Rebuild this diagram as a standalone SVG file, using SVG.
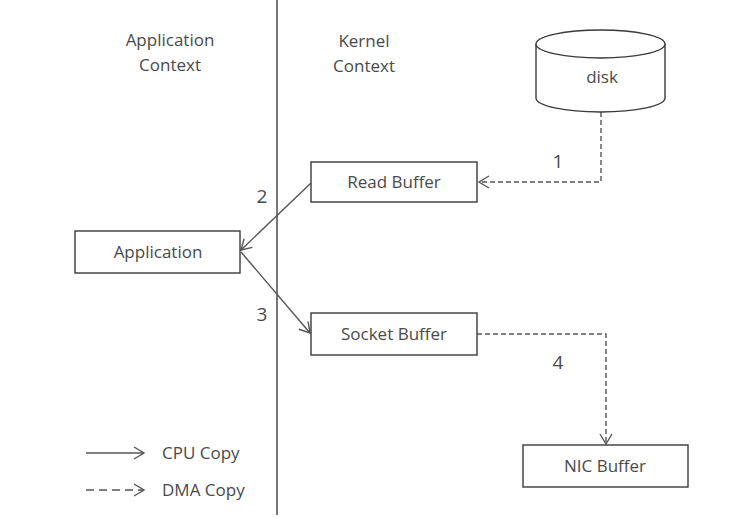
<svg xmlns="http://www.w3.org/2000/svg" width="740" height="519" viewBox="0 0 740 519">
  <style>
    .lbl { font-family: "Open Sans", "Liberation Sans", sans-serif; font-size: 17px; fill: #4a4a4a; text-anchor: middle; }
    .num { font-size: 19px; }
    .box { fill: #fff; stroke: #3a3a3a; stroke-width: 1.4; }
    .cpu { fill: none; stroke: #555; stroke-width: 1.4; marker-end: url(#chev); }
    .dma { fill: none; stroke: #555; stroke-width: 1.4; stroke-dasharray: 5 3; marker-end: url(#chev); }
    .divider { stroke: #555; stroke-width: 1.6; }
  </style>
  <defs>
    <marker id="chev" markerUnits="userSpaceOnUse" markerWidth="14" markerHeight="14" refX="0" refY="0" viewBox="-12 -7 14 14" orient="auto" overflow="visible">
      <path d="M-10,-6 L0,0 L-10,6" fill="none" stroke="#555" stroke-width="1.4"/>
    </marker>
  </defs>
  <rect width="740" height="519" fill="#fff"/>

  <!-- context divider -->
  <line class="divider" x1="277" y1="0" x2="277" y2="515"/>

  <!-- context headings -->
  <text class="lbl" x="170" y="46">Application</text>
  <text class="lbl" x="170" y="71">Context</text>
  <text class="lbl" x="364" y="47">Kernel</text>
  <text class="lbl" x="364" y="72">Context</text>

  <g id="connectors">
    <!-- 1: disk to read buffer (DMA) -->
    <path class="dma" d="M601,112 V182 H479"/>
    <!-- 2: read buffer to application (CPU) -->
    <path class="cpu" d="M311,183 L241,250"/>
    <!-- 3: application to socket buffer (CPU) -->
    <path class="cpu" d="M241,252 L310,333"/>
    <!-- 4: socket buffer to NIC buffer (DMA) -->
    <path class="dma" d="M477,334 H606 V444"/>
    <text class="lbl num" x="558" y="168">1</text>
    <text class="lbl num" x="262" y="203">2</text>
    <text class="lbl num" x="262" y="321">3</text>
    <text class="lbl num" x="558" y="369">4</text>
  </g>

  <g id="disk">
    <path class="box" d="M536,44 V98 A64.5,14 0 0 0 665,98 V44"/>
    <ellipse class="box" cx="600.5" cy="44" rx="64.5" ry="14"/>
    <text class="lbl" x="602" y="83">disk</text>
  </g>

  <g id="read-buffer">
    <rect class="box" x="311" y="162" width="166" height="40"/>
    <text class="lbl" x="394" y="188">Read Buffer</text>
  </g>

  <g id="application">
    <rect class="box" x="75" y="231" width="165" height="42"/>
    <text class="lbl" x="158" y="258">Application</text>
  </g>

  <g id="socket-buffer">
    <rect class="box" x="311" y="313" width="166" height="42"/>
    <text class="lbl" x="394" y="340">Socket Buffer</text>
  </g>

  <g id="nic-buffer">
    <rect class="box" x="523" y="445" width="165" height="42"/>
    <text class="lbl" x="605" y="472">NIC Buffer</text>
  </g>

  <g id="legend">
    <line class="cpu" x1="86" y1="453" x2="144" y2="453"/>
    <text class="lbl" x="162" y="459" style="text-anchor:start">CPU  Copy</text>
    <line class="dma" x1="86" y1="490" x2="144" y2="490" style="stroke-dasharray:8 5"/>
    <text class="lbl" x="162" y="496" style="text-anchor:start">DMA Copy</text>
  </g>
</svg>
